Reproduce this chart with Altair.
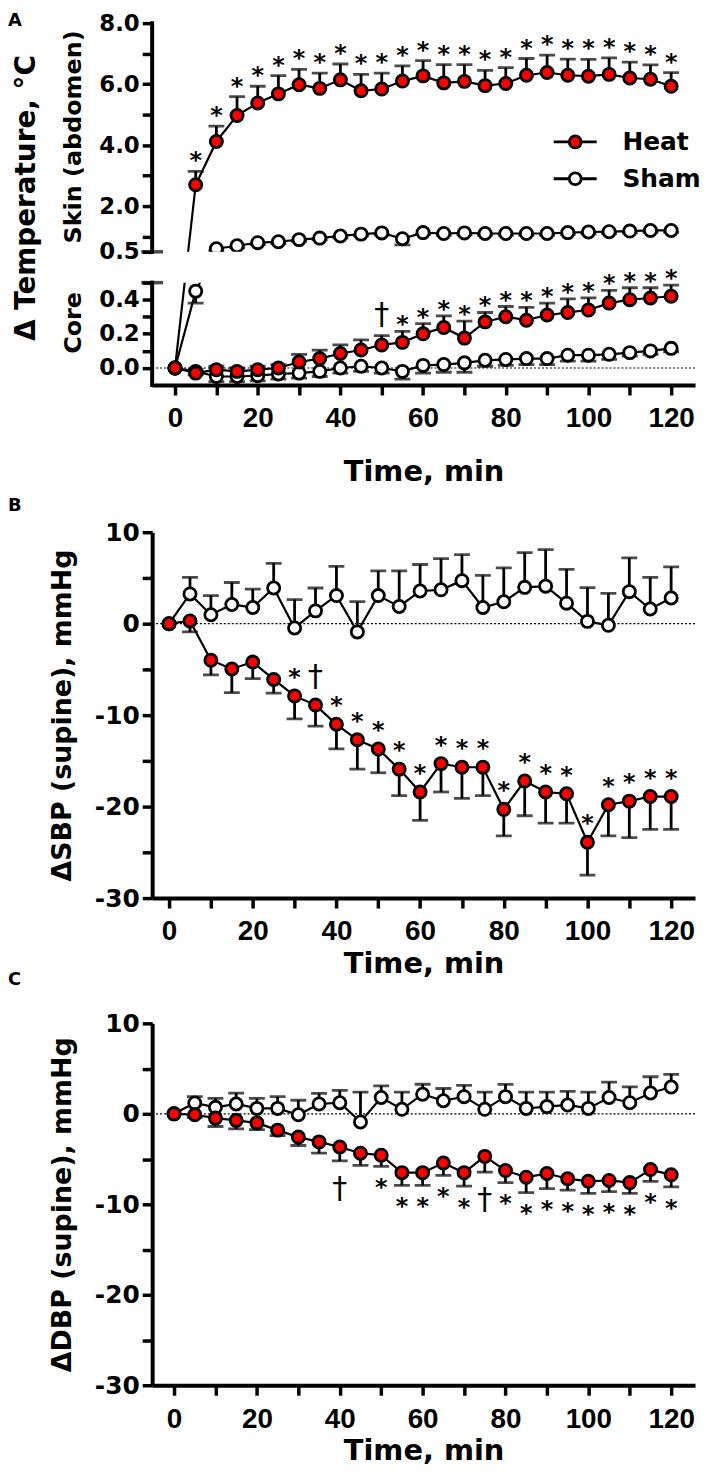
import altair as alt
import pandas as pd

# ---------------- data ----------------
time_min = [0, 5, 10, 15, 20, 25, 30, 35, 40, 45, 50, 55, 60, 65, 70, 75, 80, 85, 90, 95, 100, 105, 110, 115, 120]

# Panel A - skin (abdomen) temperature change, deg C
skin_heat = [0.00, 2.70, 4.12, 4.97, 5.38, 5.68, 5.98, 5.86, 6.14, 5.78, 5.84, 6.10, 6.27, 6.04, 6.09, 5.95, 6.02, 6.29, 6.38, 6.29, 6.26, 6.32, 6.20, 6.16, 5.93]
skin_heat_sem = [0.00, 0.44, 0.50, 0.62, 0.55, 0.60, 0.50, 0.50, 0.52, 0.54, 0.52, 0.50, 0.50, 0.60, 0.55, 0.50, 0.52, 0.55, 0.57, 0.53, 0.55, 0.54, 0.52, 0.47, 0.45]
skin_sham = [0.00, 0.45, 0.60, 0.70, 0.80, 0.83, 0.90, 0.95, 1.02, 1.08, 1.12, 0.93, 1.13, 1.10, 1.12, 1.10, 1.10, 1.10, 1.10, 1.13, 1.15, 1.16, 1.18, 1.20, 1.20]
skin_sham_sem = [0.00, 0.07, 0.06, 0.06, 0.06, 0.06, 0.06, 0.06, 0.06, 0.06, 0.06, 0.20, 0.06, 0.06, 0.06, 0.06, 0.06, 0.06, 0.06, 0.06, 0.06, 0.06, 0.06, 0.06, 0.06]
skin_marks = ["", "*", "*", "*", "*", "*", "*", "*", "*", "*", "*", "*", "*", "*", "*", "*", "*", "*", "*", "*", "*", "*", "*", "*", "*"]

# Panel A - core temperature change, deg C
core_heat = [0.00, -0.03, -0.01, -0.02, -0.01, 0.00, 0.035, 0.055, 0.085, 0.105, 0.135, 0.15, 0.20, 0.237, 0.175, 0.27, 0.30, 0.28, 0.31, 0.325, 0.34, 0.38, 0.40, 0.41, 0.42]
core_heat_sem = [0.00, 0.02, 0.02, 0.02, 0.02, 0.02, 0.045, 0.05, 0.05, 0.06, 0.055, 0.065, 0.06, 0.068, 0.10, 0.055, 0.06, 0.075, 0.07, 0.08, 0.07, 0.075, 0.07, 0.06, 0.065]
core_sham = [0.00, -0.02, -0.05, -0.05, -0.045, -0.035, -0.03, -0.02, 0.00, 0.01, 0.00, -0.02, 0.015, 0.02, 0.03, 0.045, 0.05, 0.055, 0.055, 0.075, 0.075, 0.08, 0.09, 0.10, 0.115]
core_sham_sem = [0.00, 0.02, 0.03, 0.03, 0.03, 0.03, 0.03, 0.03, 0.03, 0.03, 0.03, 0.045, 0.045, 0.045, 0.055, 0.035, 0.035, 0.035, 0.035, 0.035, 0.035, 0.03, 0.02, 0.02, 0.02]
core_marks = ["", "", "", "", "", "", "", "", "", "", "†", "*", "*", "*", "*", "*", "*", "*", "*", "*", "*", "*", "*", "*", "*"]

# Panel B - systolic blood pressure change, mmHg
sbp_heat = [0.0, 0.3, -4.0, -4.95, -4.2, -6.1, -7.9, -8.9, -11.0, -12.7, -13.7, -15.9, -18.4, -15.3, -15.7, -15.7, -20.3, -17.2, -18.4, -18.6, -23.9, -19.8, -19.4, -18.9, -18.9]
sbp_heat_sem = [0.0, 1.2, 1.6, 2.6, 1.8, 1.5, 2.5, 2.3, 2.7, 3.2, 2.6, 2.9, 3.1, 3.1, 3.4, 3.1, 2.9, 3.8, 3.4, 3.2, 3.6, 3.4, 4.0, 3.6, 3.6]
sbp_sham = [0.0, 3.25, 0.97, 2.1, 1.77, 3.9, -0.47, 1.4, 3.07, -0.9, 3.07, 1.88, 3.57, 3.7, 4.7, 1.77, 2.4, 3.97, 4.1, 2.24, 0.25, -0.18, 3.5, 1.6, 2.8]
sbp_sham_sem = [0.0, 1.8, 2.1, 2.4, 2.0, 2.7, 3.1, 2.5, 3.2, 3.3, 2.7, 3.9, 2.9, 3.4, 2.85, 3.5, 3.7, 3.8, 4.0, 3.7, 3.7, 3.5, 3.7, 3.45, 3.4]
sbp_marks = ["", "", "", "", "", "", "*", "†", "*", "*", "*", "*", "*", "*", "*", "*", "*", "*", "*", "*", "*", "*", "*", "*", "*"]

# Panel C - diastolic blood pressure change, mmHg
dbp_heat = [0.0, -0.1, -0.47, -0.72, -1.0, -1.8, -2.57, -3.1, -3.66, -4.35, -4.57, -6.5, -6.5, -5.43, -6.5, -4.7, -6.27, -7.0, -6.6, -7.17, -7.46, -7.36, -7.6, -6.16, -6.74]
dbp_heat_sem = [0.0, 0.3, 0.93, 0.95, 0.74, 0.6, 0.93, 1.25, 1.54, 1.35, 1.23, 1.4, 1.4, 1.37, 1.5, 1.75, 1.33, 1.7, 1.66, 1.27, 1.34, 1.24, 1.2, 1.3, 1.34]
dbp_sham = [0.0, 1.2, 0.72, 1.09, 0.6, 0.6, -0.1, 1.09, 1.23, -0.9, 1.8, 0.5, 2.17, 1.45, 1.9, 0.5, 1.9, 0.6, 0.8, 0.98, 0.6, 1.8, 1.23, 2.3, 2.97]
dbp_sham_sem = [0.0, 0.7, 1.0, 1.2, 1.1, 1.3, 1.6, 1.16, 1.37, 3.3, 1.3, 1.9, 1.1, 1.35, 1.25, 1.9, 1.36, 1.8, 1.6, 1.5, 1.8, 1.7, 1.74, 1.8, 1.4]
dbp_marks = ["", "", "", "", "", "", "", "", "†", "", "*", "*", "*", "*", "*", "†", "*", "*", "*", "*", "*", "*", "*", "*", "*"]

groups = ["Heat", "Sham"]
group_fill = ["#ff0000", "#ffffff"]

# ---------------- styling / layout ----------------
TXT = "DejaVu Sans"
NUM = "Liberation Sans"
W = 546
H_SKIN, GAP_A, H_CORE = 230, 31, 103
GAP_AB, H_B, GAP_BC, H_C = 148, 368, 126, 364

fill_scale = alt.Scale(domain=groups, range=group_fill)
LEGEND_SYMBOL = "M-3.6,0L-1,0M1,0L3.6,0M1,0A1,1,0,1,1,-1,0A1,1,0,1,1,1,0Z"


def long_frame(kind, heat, heat_sem, heat_dir, sham, sham_sem, sham_dir, marks):
    rows = []
    for grp, vals, sems, sgn, mk in (("Sham", sham, sham_sem, sham_dir, [""] * len(time_min)),
                                     ("Heat", heat, heat_sem, heat_dir, marks)):
        for t, v, s, m in zip(time_min, vals, sems, mk):
            rows.append({"t": t, "group": grp, "series": kind + "-" + grp, "kind": kind,
                         "v": v, "sem": s, "end": v + sgn * s, "mark": m})
    return pd.DataFrame(rows)


skin_df = long_frame("skin", skin_heat, skin_heat_sem, 1, skin_sham, skin_sham_sem, -1, skin_marks)
core_df = long_frame("core", core_heat, core_heat_sem, 1, core_sham, core_sham_sem, -1, core_marks)
temp_df = pd.concat([skin_df, core_df], ignore_index=True)
sbp_df = long_frame("sbp", sbp_heat, sbp_heat_sem, -1, sbp_sham, sbp_sham_sem, 1, sbp_marks)
dbp_df = long_frame("dbp", dbp_heat, dbp_heat_sem, -1, dbp_sham, dbp_sham_sem, 1, dbp_marks)


def x_enc(domain, title_y):
    if title_y is None:
        axis = None
    else:
        axis = alt.Axis(values=list(range(0, 121, 10)),
                        labelExpr="datum.value % 20 == 0 ? toString(datum.value) : ''",
                        labelFont=NUM, labelFontWeight="bold", labelFontSize=28, labelColor="black",
                        labelPadding=10, labelFlush=False, labelOverlap=False,
                        tickSize=10, tickWidth=3.5, tickColor="black",
                        domainWidth=4, domainColor="black", grid=False,
                        title="Time, min", titleFont=TXT, titleFontWeight="bold", titleFontSize=29,
                        titleColor="black", titleY=title_y, titleBaseline="top")
    return alt.X("t:Q", scale=alt.Scale(domain=domain, nice=False, zero=False), axis=axis)


def y_axis(values, label_expr, title, title_x, title_y, label_size, title_size, domain=True):
    return alt.Axis(values=values, labelExpr=label_expr,
                    labelFont=TXT, labelFontWeight="bold", labelFontSize=label_size, labelColor="black",
                    labelPadding=3, labelOverlap=False, labelFlush=False,
                    tickSize=10, tickWidth=3.5, tickColor="black",
                    domain=domain, domainWidth=4, domainColor="black", grid=False,
                    title=title, titleFont=TXT, titleFontWeight="bold", titleFontSize=title_size,
                    titleColor="black", titleAngle=270, titleX=title_x, titleY=title_y,
                    titleAlign="center", titleBaseline="middle")


def series_layers(df, X, ys, yax, keep, legend, star_df, star_field, star_dy, dag_dy):
    def Y(f):
        return alt.Y(f, type="quantitative", scale=ys, axis=yax)
    base = alt.Chart(df)
    lines = base.mark_line(color="black", strokeWidth=2.2, clip=True).encode(
        x=X, y=Y("v"), detail="series:N")
    sub = base.transform_filter(keep) if keep else base
    bars = sub.transform_filter("datum.sem > 0").mark_rule(
        color="black", strokeWidth=2.8, clip=True).encode(x=X, y=Y("v"), y2="end:Q")
    caps = sub.transform_filter("datum.sem > 0").mark_tick(
        color="black", orient="horizontal", size=16, thickness=2.8, clip=True).encode(x=X, y=Y("end"))
    pts = sub.mark_point(shape="circle", filled=True, size=150, opacity=1, stroke="black",
                         strokeWidth=2.8, clip=True).encode(
        x=X, y=Y("v"), fill=alt.Fill("group:N", scale=fill_scale, legend=legend))
    sb = alt.Chart(star_df)
    stars = sb.transform_filter("datum.mark == '*'").mark_text(
        font=TXT, fontWeight="bold", fontSize=24, color="black", baseline="middle", dy=star_dy).encode(
        x=X, y=Y(star_field), text="mark:N")
    dags = sb.transform_filter("datum.mark == '†'").mark_text(
        font=TXT, fontWeight="normal", fontSize=30, color="black", baseline="middle", dy=dag_dy).encode(
        x=X, y=Y(star_field), text="mark:N")
    return [lines, bars, caps, pts, stars, dags]


def spacer(h):
    return alt.Chart(pd.DataFrame({"s": [0]})).mark_point(opacity=0).encode(
        x=alt.X("s:Q", axis=None), y=alt.Y("s:Q", axis=None)).properties(width=W, height=h)


def letter(text, y_rel):
    return alt.Chart(pd.DataFrame({"label": [text]})).mark_text(
        font=TXT, fontWeight="bold", fontSize=18, color="black", align="left",
        baseline="alphabetic").encode(text="label:N", x=alt.value(-145), y=alt.value(y_rel))


# ---------------- Panel A (broken axis) ----------------
XD_A = [-5.53, 125.78]
A_DOMAIN = [-0.1, 0.4999, 0.5, 8.0]
ys_skin = alt.Scale(domain=A_DOMAIN, range=[H_SKIN + GAP_A + H_CORE, H_SKIN + GAP_A, H_SKIN, 0],
                    nice=False, zero=False)
ys_core = alt.Scale(domain=A_DOMAIN, range=[H_CORE, 0, -GAP_A, -GAP_A - H_SKIN], nice=False, zero=False)

skin_axis = y_axis([0.5, 1, 2, 3, 4, 5, 6, 7, 8],
                   "(datum.value == 0.5 || datum.value % 2 == 0) ? format(datum.value, '.1f') : ''",
                   "Skin (abdomen)", -79, 114, 23, 24, domain=False)
core_axis = y_axis([0, 0.1, 0.2, 0.3, 0.4, 0.4999],
                   "(datum.value == 0 || datum.value == 0.2 || datum.value == 0.4) ? format(datum.value, '.1f') : ''",
                   "Core", -79, 40, 23, 24, domain=False)

X_skin = x_enc(XD_A, None)
X_core = x_enc(XD_A, 73)

skin_axis_df = pd.DataFrame({"t": [XD_A[0]], "lo": [0.5], "hi": [8.0]})
core_axis_df = pd.DataFrame({"t": [XD_A[0]], "lo": [-0.1], "hi": [0.4999]})

skin_axis_line = alt.Chart(skin_axis_df).mark_rule(
    color="black", strokeWidth=4, strokeCap="square").encode(
    x=X_skin, y=alt.Y("lo:Q", scale=ys_skin, axis=skin_axis), y2="hi:Q")
skin_break = alt.Chart(skin_axis_df).mark_tick(
    color="black", orient="horizontal", size=22, thickness=3.5).encode(
    x=X_skin, y=alt.Y("lo:Q", scale=ys_skin, axis=skin_axis))
core_axis_line = alt.Chart(core_axis_df).mark_rule(
    color="black", strokeWidth=4, strokeCap="square").encode(
    x=X_core, y=alt.Y("lo:Q", scale=ys_core, axis=core_axis), y2="hi:Q")
core_break = alt.Chart(core_axis_df).mark_tick(
    color="black", orient="horizontal", size=22, thickness=3.5).encode(
    x=X_core, y=alt.Y("hi:Q", scale=ys_core, axis=core_axis))

temp_label = alt.Chart(pd.DataFrame({"label": ["Δ Temperature, °C"]})).mark_text(
    angle=270, font=TXT, fontWeight="bold", fontSize=28, color="black", baseline="middle",
    align="center").encode(text="label:N", x=alt.value(-126), y=alt.value(176))

legend_a = alt.Legend(title=None, orient="none", legendX=413, legendY=107, symbolType=LEGEND_SYMBOL,
                      symbolSize=144, symbolStrokeColor="black", symbolStrokeWidth=2.8,
                      labelFont=TXT, labelFontWeight="bold", labelFontSize=25, labelColor="black",
                      labelOffset=35, rowPadding=11, padding=0)

skin_view = alt.layer(
    skin_axis_line,
    skin_break,
    *series_layers(skin_df, X_skin, ys_skin, skin_axis, "datum.v >= 0.5", legend_a,
                   skin_df, "end", -10, -21),
    temp_label,
    letter("A", 3),
).properties(width=W, height=H_SKIN)

zero_core = alt.Chart(pd.DataFrame({"v": [0.0]})).mark_rule(
    color="black", strokeWidth=1.2, strokeDash=[2, 2]).encode(y=alt.Y("v:Q", scale=ys_core, axis=core_axis))

core_view = alt.layer(
    zero_core,
    core_axis_line,
    core_break,
    *series_layers(temp_df, X_core, ys_core, core_axis, "datum.v < 0.5", None,
                   core_df, "end", -6, -21),
).properties(width=W, height=H_CORE)

# ---------------- Panel B ----------------
XD_B = [-4.04, 125.71]
bp_values = [-30, -25, -20, -15, -10, -5, 0, 5, 10]
bp_expr = "datum.value % 10 == 0 ? toString(datum.value) : ''"
ys_b = alt.Scale(domain=[-30, 10], nice=False, zero=False)
b_axis = y_axis(bp_values, bp_expr, "ΔSBP (supine), mmHg", -90, H_B / 2, 25, 27)
X_b = x_enc(XD_B, 52)
zero_b = alt.Chart(pd.DataFrame({"v": [0.0]})).mark_rule(
    color="black", strokeWidth=1.2, strokeDash=[2, 2]).encode(y=alt.Y("v:Q", scale=ys_b, axis=b_axis))
b_view = alt.layer(
    zero_b,
    *series_layers(sbp_df, X_b, ys_b, b_axis, None, None, sbp_df, "v", -18, -28),
    letter("B", -21),
).properties(width=W, height=H_B)

# ---------------- Panel C ----------------
XD_C = [-5.28, 125.75]
ys_c = alt.Scale(domain=[-30, 10], nice=False, zero=False)
c_axis = y_axis(bp_values, bp_expr, "ΔDBP (supine), mmHg", -90, H_C / 2, 25, 27)
X_c = x_enc(XD_C, 52)
zero_c = alt.Chart(pd.DataFrame({"v": [0.0]})).mark_rule(
    color="black", strokeWidth=1.2, strokeDash=[2, 2]).encode(y=alt.Y("v:Q", scale=ys_c, axis=c_axis))
c_view = alt.layer(
    zero_c,
    *series_layers(dbp_df, X_c, ys_c, c_axis, None, None, dbp_df, "end", 22, 28),
    letter("C", -39),
).properties(width=W, height=H_C)

chart = alt.vconcat(
    skin_view, spacer(GAP_A), core_view, spacer(GAP_AB), b_view, spacer(GAP_BC), c_view,
    spacing=0, bounds="flush",
).resolve_scale(x="independent", y="independent", fill="independent").resolve_legend(
    fill="independent").properties(padding=0).configure_view(stroke=None)

chart.save("out.html", embed_options={"renderer": "svg", "actions": False})
